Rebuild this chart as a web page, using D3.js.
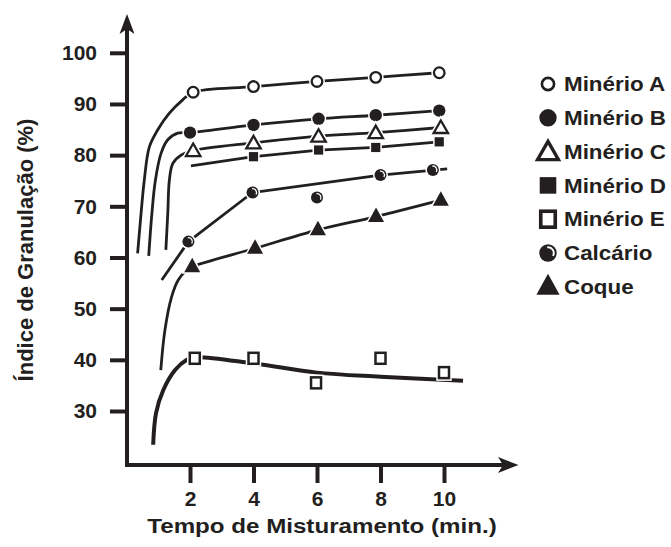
<!DOCTYPE html>
<html>
<head>
<meta charset="utf-8">
<script src="https://cdn.jsdelivr.net/npm/d3@7"></script>
<style>
  body { margin: 0; background: #fff; }
  svg text { font-family: "Liberation Sans", Arial, Helvetica, sans-serif; font-weight: bold; fill: #231f20; }
</style>
</head>
<body>
<svg id="chart" width="671" height="547"></svg>
<script>
// ---- data ----
const xTickValues = [2, 4, 6, 8, 10];
const yTickValues = [30, 40, 50, 60, 70, 80, 90, 100];
const xTitle = "Tempo de Misturamento (min.)";
const yTitle = "Índice de Granulação (%)";
const seriesNames = ["Minério A", "Minério B", "Minério C", "Minério D", "Minério E", "Calcário", "Coque"];

// measured points: mixing time (min) and granulation index (%)
const minerioA_t = [2.1, 4.0, 6.0, 7.85, 9.85];
const minerioA_v = [92.3, 93.4, 94.4, 95.2, 96.1];
const minerioB_t = [2.0, 4.0, 6.05, 7.85, 9.85];
const minerioB_v = [84.4, 85.9, 87.1, 87.8, 88.7];
const minerioC_t = [2.1, 4.0, 6.05, 7.85, 9.9];
const minerioC_v = [80.9, 82.4, 83.7, 84.4, 85.4];
const minerioD_t = [4.0, 6.05, 7.85, 9.85];
const minerioD_v = [79.7, 81.0, 81.5, 82.6];
const minerioE_t = [2.15, 4.0, 5.97, 8.0, 10.0];
const minerioE_v = [40.3, 40.3, 35.5, 40.3, 37.5];
const calcario_t = [1.95, 3.97, 6.0, 8.0, 9.65];
const calcario_v = [63.1, 72.7, 71.7, 76.1, 77.1];
const coque_t = [2.07, 4.05, 6.03, 7.86, 9.9];
const coque_v = [58.2, 61.8, 65.4, 68.0, 71.2];

// fitted trend curves: [time, index]
const fitA = [[0.35, 60.8], [0.46, 68.7], [0.56, 75.1], [0.72, 81.6], [0.98, 84.9], [1.35, 88.2], [1.77, 90.8],
              [2.1, 92.3], [4.0, 93.4], [6.0, 94.4], [7.85, 95.2], [9.85, 96.1]];
const fitB = [[0.70, 60.3], [0.80, 68.6], [0.91, 75.1], [1.09, 80.4], [1.30, 83.0], [1.61, 84.3],
              [2.0, 84.4], [4.0, 85.9], [6.05, 87.1], [7.85, 87.8], [9.85, 88.7]];
const fitC = [[1.24, 61.5], [1.30, 68.6], [1.35, 75.1], [1.46, 78.4], [1.72, 80.0],
              [2.1, 80.9], [4.0, 82.4], [6.05, 83.7], [7.85, 84.4], [9.9, 85.4]];
const fitD = [[2.03, 77.9], [4.0, 79.7], [6.05, 81.0], [7.85, 81.5], [9.85, 82.6]];
const fitE = [[0.84, 23.4], [0.93, 29.6], [1.16, 34.1], [1.53, 38.0], [1.9, 40.0], [2.15, 40.5],
              [4.0, 39.3], [6.0, 37.5], [8.0, 36.7], [10.6, 35.9]];
const fitCalcario = [[1.11, 55.6], [1.95, 63.1], [3.97, 72.7], [8.0, 76.1], [10.1, 77.3]];
const fitCoque = [[1.08, 38.0], [1.21, 45.8], [1.42, 52.3], [1.63, 55.6], [1.9, 57.55],
                  [2.07, 58.2], [4.05, 61.8], [6.03, 65.4], [7.86, 68.0], [9.9, 71.2]];

// ---- drawing ----
const ink = "#231f20";
const svg = d3.select("#chart");

const x = d3.scaleLinear().domain([0, 10]).range([126.5, 444]);
const y = d3.scaleLinear().domain([30, 100]).range([411, 52.8]);

const series = [
  { name: seriesNames[0], t: minerioA_t, v: minerioA_v, fit: fitA, marker: "openCircle", curve: d3.curveCatmullRom, width: 2.8 },
  { name: seriesNames[1], t: minerioB_t, v: minerioB_v, fit: fitB, marker: "filledCircle", curve: d3.curveCatmullRom, width: 2.8 },
  { name: seriesNames[2], t: minerioC_t, v: minerioC_v, fit: fitC, marker: "openTriangle", curve: d3.curveCatmullRom, width: 2.8 },
  { name: seriesNames[3], t: minerioD_t, v: minerioD_v, fit: fitD, marker: "filledSquare", curve: d3.curveLinear, width: 2.8 },
  { name: seriesNames[4], t: minerioE_t, v: minerioE_v, fit: fitE, marker: "openSquare", curve: d3.curveCatmullRom, width: 4 },
  { name: seriesNames[5], t: calcario_t, v: calcario_v, fit: fitCalcario, marker: "calcario", curve: d3.curveLinear, width: 2.8 },
  { name: seriesNames[6], t: coque_t, v: coque_v, fit: fitCoque, marker: "filledTriangle", curve: d3.curveCatmullRom, width: 2.8 }
];

// axes with ticks
const yAxis = d3.axisLeft(y).tickValues(yTickValues).tickSize(17).tickPadding(13);
const gy = svg.append("g").attr("transform", "translate(127,0)").call(yAxis);
const xAxis = d3.axisBottom(x).tickValues(xTickValues).tickSize(18).tickPadding(8);
const gx = svg.append("g").attr("transform", "translate(0,465)").call(xAxis);

[gx, gy].forEach(g => {
  g.select(".domain").remove();
  g.selectAll(".tick line").attr("stroke", ink).attr("stroke-width", 4);
  g.selectAll(".tick text").attr("font-size", 21).attr("fill", ink)
    .style("font-family", '"Liberation Sans", Arial, sans-serif').style("font-weight", "bold");
});

// axis lines with arrowheads
svg.append("line").attr("x1", 127).attr("y1", 467).attr("x2", 127).attr("y2", 24)
  .attr("stroke", ink).attr("stroke-width", 4);
svg.append("path").attr("d", "M127,14 L134.5,34 L127,29 L119.5,34 Z").attr("fill", ink);
svg.append("line").attr("x1", 125).attr("y1", 465).attr("x2", 508).attr("y2", 465)
  .attr("stroke", ink).attr("stroke-width", 4);
svg.append("path").attr("d", "M518.5,465 L498,457 L503,465 L498,473 Z").attr("fill", ink);

// axis titles
svg.append("text").attr("transform", "translate(322,533) scale(1.15,1)").attr("text-anchor", "middle")
  .attr("font-size", 21).text(xTitle);
svg.append("text").attr("transform", "translate(33,250) rotate(-90)").attr("text-anchor", "middle")
  .attr("font-size", 22).text(yTitle);

// trend curves
const line = d3.line().x(d => x(d[0])).y(d => y(d[1]));
series.forEach(s => {
  svg.append("path").datum(s.fit)
    .attr("d", line.curve(s.curve))
    .attr("fill", "none").attr("stroke", ink).attr("stroke-width", s.width)
    .attr("stroke-linecap", "butt").attr("stroke-linejoin", "round");
});

// marker shapes
function drawMarker(g, type, k, halo) {
  const sw = halo ? 3 : 0;
  const col = halo ? "#fff" : ink;
  switch (type) {
    case "openCircle":
      g.append("circle").attr("r", 5.3 * k).attr("fill", "#fff").attr("stroke", col).attr("stroke-width", 2.3 * k + sw);
      break;
    case "filledCircle":
      g.append("circle").attr("r", 6.2 * k).attr("fill", col).attr("stroke", "#fff").attr("stroke-width", sw);
      break;
    case "openTriangle":
      g.append("path").attr("d", `M0,${-7 * k} L${7.2 * k},${5.5 * k} L${-7.2 * k},${5.5 * k} Z`)
        .attr("fill", "#fff").attr("stroke", col).attr("stroke-width", 2.3 * k + sw).attr("stroke-linejoin", "miter");
      break;
    case "filledSquare":
      g.append("rect").attr("x", -4.6 * k).attr("y", -4.6 * k).attr("width", 9.2 * k).attr("height", 9.2 * k)
        .attr("fill", col).attr("stroke", "#fff").attr("stroke-width", sw);
      break;
    case "openSquare":
      g.append("rect").attr("x", -5 * k).attr("y", -5.5 * k).attr("width", 10 * k).attr("height", 11 * k)
        .attr("fill", "#fff").attr("stroke", col).attr("stroke-width", 2.5 * k + sw);
      break;
    case "calcario":
      g.append("circle").attr("r", 6 * k).attr("fill", col).attr("stroke", "#fff").attr("stroke-width", sw);
      if (!halo) {
        g.append("path").attr("d", d3.arc()({ innerRadius: 3.3 * k, outerRadius: 4.6 * k, startAngle: -0.15, endAngle: 2.1 }))
          .attr("fill", "#fff");
      }
      break;
    case "filledTriangle":
      g.append("path").attr("d", `M0,${-9 * k} L${8 * k},${5.5 * k} L${-8 * k},${5.5 * k} Z`)
        .attr("fill", col).attr("stroke", "#fff").attr("stroke-width", sw);
      break;
  }
}

// measured points
series.forEach(s => {
  s.t.forEach((t, i) => {
    const g = svg.append("g").attr("transform", `translate(${x(t)},${y(s.v[i])})`);
    drawMarker(g, s.marker, 1, true);
    drawMarker(g, s.marker, 1, false);
  });
});

// legend
const legendScale = { openCircle: 1.15, filledCircle: 1.4, openTriangle: 1.45, filledSquare: 1.8, openSquare: 1.45, calcario: 1.45, filledTriangle: 1.45 };
series.forEach((s, i) => {
  const cy = 84 + i * 33.8;
  const g = svg.append("g").attr("transform", `translate(548,${cy})`);
  drawMarker(g, s.marker, legendScale[s.marker], false);
  svg.append("text").attr("transform", `translate(564,${cy}) scale(1.12,1)`).attr("dy", "0.36em")
    .attr("font-size", 20).text(s.name);
});
</script>
</body>
</html>
